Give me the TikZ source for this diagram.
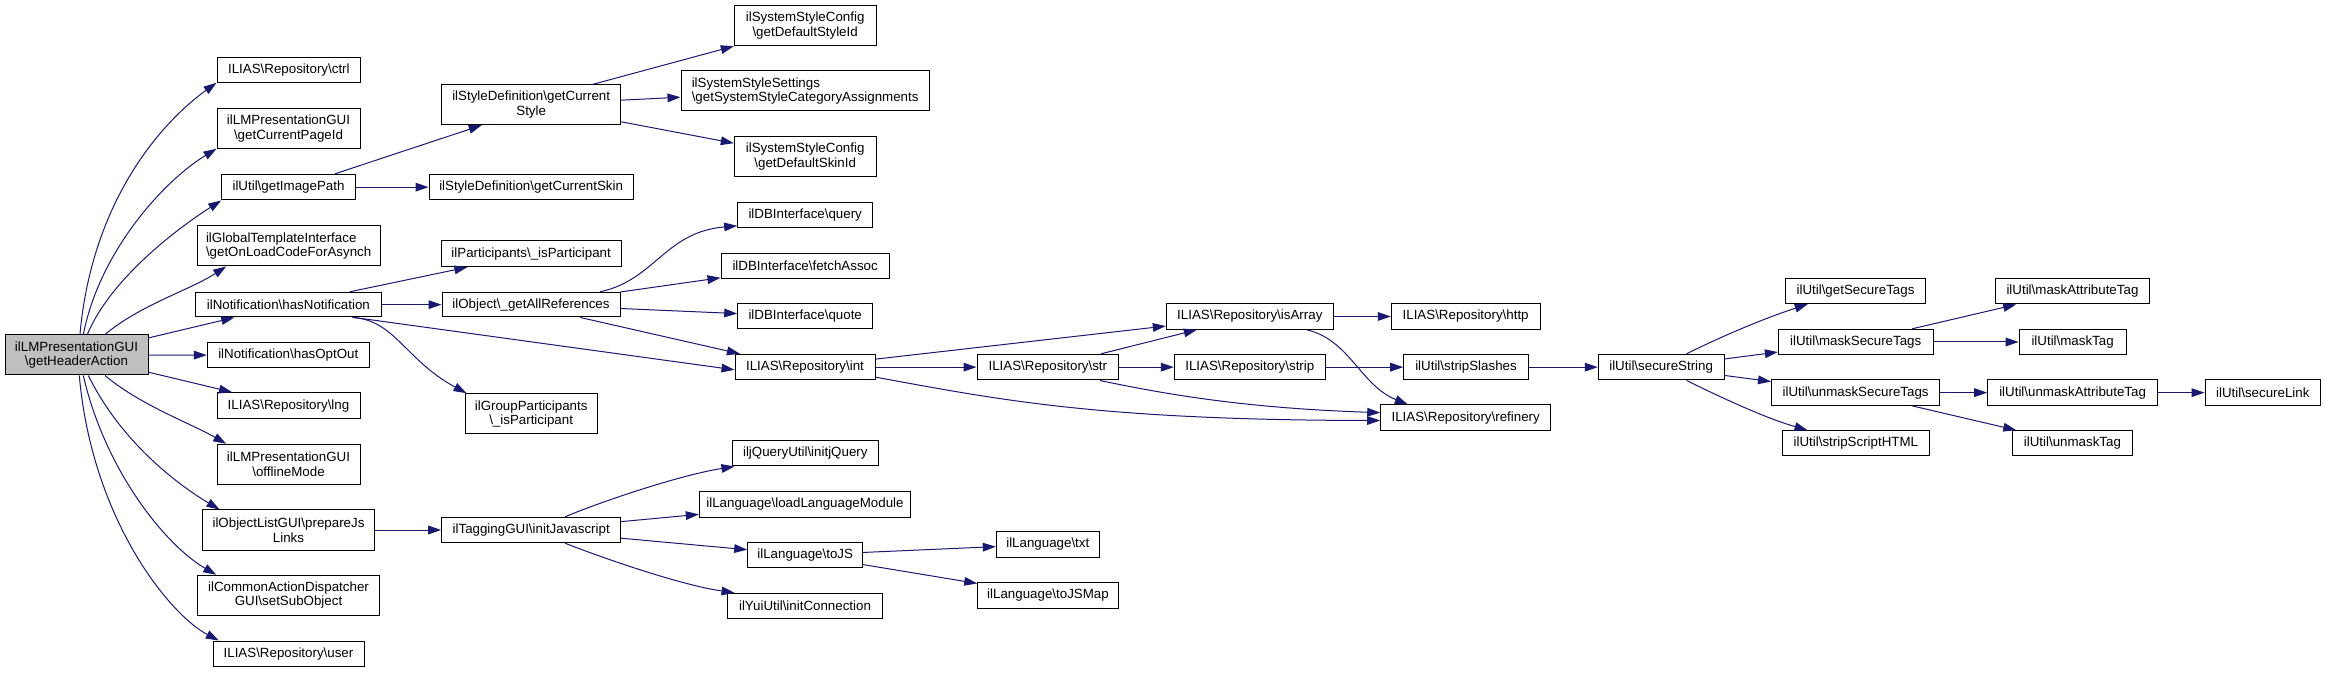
\documentclass[tikz,border=0pt]{standalone}
\usepackage{fontspec}
\setmainfont{Liberation Sans}
\usetikzlibrary{arrows.meta}
\definecolor{edgec}{HTML}{191970}
\definecolor{rootfill}{HTML}{BFBFBF}
\newcommand\bsl{\textbackslash}
\newcommand\mybox[7][]{\node[box,#1,minimum width={(#5-#3)*0.75pt},minimum height={(#6-#4)*0.75pt}] (#2) at ({(#3+#5)/2},{(#4+#6)/2}) {#7};}
\begin{document}
\begin{tikzpicture}[x=0.75pt,y=-0.75pt,
  box/.style={draw=black,fill=white,line width=0.75pt,inner sep=0pt,align=center,font=\fontsize{10}{10.9}\selectfont},
  edge/.style={draw=edgec,line width=0.75pt,-{Triangle[length=9.75pt,width=6.5pt]}}]
\useasboundingbox (0,0) rectangle (2325,673);
% nodes
\mybox[fill=rootfill]{root}{5}{335}{148}{375}{ilLMPresentationGUI\\\bsl getHeaderAction}
\mybox{ctrl}{217}{57.3}{360.7}{82.3}{ILIAS\bsl Repository\bsl ctrl}
\mybox{pageid}{217}{108.3}{360}{148.3}{ilLMPresentationGUI\\\bsl getCurrentPageId}
\mybox{imgpath}{221.7}{174.3}{355.3}{200}{ilUtil\bsl getImagePath}
\mybox[align=left]{onload}{197.3}{226}{380}{266}{ilGlobalTemplateInterface\\\bsl getOnLoadCodeForAsynch}
\mybox{hasnot}{195.7}{292.3}{381}{317}{ilNotification\bsl hasNotification}
\mybox{optout}{207.3}{342.7}{369.3}{367.7}{ilNotification\bsl hasOptOut}
\mybox{lng}{217}{392.7}{360}{418.7}{ILIAS\bsl Repository\bsl lng}
\mybox{offline}{217}{444.3}{360}{484.3}{ilLMPresentationGUI\\\bsl offlineMode}
\mybox{prepjs}{202.3}{510}{374.7}{550}{ilObjectListGUI\bsl prepareJs\\Links}
\mybox{subobj}{197.7}{575.3}{379.3}{615}{ilCommonActionDispatcher\\GUI\bsl setSubObject}
\mybox{user}{213}{641}{364}{666.7}{ILIAS\bsl Repository\bsl user}
\mybox{curstyle}{441.7}{84.7}{620.7}{124.7}{ilStyleDefinition\bsl getCurrent\\Style}
\mybox{defstyle}{734.3}{5.7}{876}{45.7}{ilSystemStyleConfig\\\bsl getDefaultStyleId}
\mybox[align=left]{catassign}{681}{71}{929.3}{111}{ilSystemStyleSettings\\\bsl getSystemStyleCategoryAssignments}
\mybox{defskin}{734.3}{136.7}{876}{176.7}{ilSystemStyleConfig\\\bsl getDefaultSkinId}
\mybox{curskin}{429}{174.3}{633.3}{200}{ilStyleDefinition\bsl getCurrentSkin}
\mybox{query}{737.7}{202.3}{872.7}{228}{ilDBInterface\bsl query}
\mybox{fetch}{721}{253.3}{889.3}{278.3}{ilDBInterface\bsl fetchAssoc}
\mybox{quote}{737.7}{304}{872.7}{329}{ilDBInterface\bsl quote}
\mybox{ispart}{441}{241}{621.3}{266.7}{ilParticipants\bsl \_isParticipant}
\mybox{allrefs}{442}{292.3}{620}{317}{ilObject\bsl \_getAllReferences}
\mybox{grppart}{465}{393.7}{597.3}{434}{ilGroupParticipants\\\bsl \_isParticipant}
\mybox{int}{735}{354.3}{875}{380}{ILIAS\bsl Repository\bsl int}
\mybox{jquery}{732.3}{441}{878.3}{466}{iljQueryUtil\bsl initjQuery}
\mybox{loadlang}{699.3}{491.7}{910.7}{517.3}{ilLanguage\bsl loadLanguageModule}
\mybox{initjs}{441.7}{517.3}{620.7}{542.7}{ilTaggingGUI\bsl initJavascript}
\mybox{tojs}{747.7}{542.3}{862.7}{567.7}{ilLanguage\bsl toJS}
\mybox{initconn}{727.3}{593.3}{882.7}{618.3}{ilYuiUtil\bsl initConnection}
\mybox{isarray}{1166.3}{303.7}{1333.3}{329.3}{ILIAS\bsl Repository\bsl isArray}
\mybox{str}{977}{354.3}{1118.7}{380}{ILIAS\bsl Repository\bsl str}
\mybox{strip}{1174.3}{354.3}{1325.3}{380}{ILIAS\bsl Repository\bsl strip}
\mybox{refinery}{1380.7}{405}{1550.7}{430.7}{ILIAS\bsl Repository\bsl refinery}
\mybox{http}{1391.3}{303.7}{1540}{329.3}{ILIAS\bsl Repository\bsl http}
\mybox{stripsl}{1403.7}{354.3}{1528.3}{380}{ilUtil\bsl stripSlashes}
\mybox{txt}{996.3}{531.7}{1099.3}{557}{ilLanguage\bsl txt}
\mybox{tojsmap}{977.7}{582.3}{1118.3}{608}{ilLanguage\bsl toJSMap}
\mybox{secstr}{1598.3}{354.3}{1724}{380}{ilUtil\bsl secureString}
\mybox{getsec}{1785.2}{278.7}{1925.8}{303.7}{ilUtil\bsl getSecureTags}
\mybox{masksec}{1778.4}{329.3}{1933}{354.7}{ilUtil\bsl maskSecureTags}
\mybox{unmasksec}{1771.5}{380}{1939.8}{405.3}{ilUtil\bsl unmaskSecureTags}
\mybox{stripscr}{1782.3}{430.7}{1929.4}{456}{ilUtil\bsl stripScriptHTML}
\mybox{maskattr}{1995}{278.7}{2149.9}{304}{ilUtil\bsl maskAttributeTag}
\mybox{masktag}{2019.1}{329.3}{2126.1}{354.7}{ilUtil\bsl maskTag}
\mybox{unmaskattr}{1987.7}{380}{2157.5}{405.3}{ilUtil\bsl unmaskAttributeTag}
\mybox{securelink}{2205}{380}{2320.7}{405.3}{ilUtil\bsl secureLink}
\mybox{unmasktag}{2012.3}{430.7}{2132.6}{456}{ilUtil\bsl unmaskTag}
% edges from root
\draw[edge] ([xshift=2.6pt]root.north) .. controls (92,200) and (162,122) .. (ctrl.south west);
\draw[edge] ([xshift=5.1pt]root.north) .. controls (100,250) and (165,180) .. (pageid.south west);
\draw[edge] ([xshift=8.1pt]root.north) .. controls (110,280) and (175,230) .. (imgpath.south west);
\draw[edge] ([xshift=21.4pt]root.north) .. controls (140,305) and (190,290) .. ([xshift=22pt]onload.south west);
\draw[edge] (root) -- (hasnot);
\draw[edge] (root) -- (optout);
\draw[edge] (root) -- (lng);
\draw[edge] ([xshift=21.4pt]root.south) .. controls (140,405) and (190,423) .. ([xshift=7.3pt]offline.north west);
\draw[edge] ([xshift=8.9pt]root.south) .. controls (120,440) and (175,483) .. ([xshift=13.3pt]prepjs.north west);
\draw[edge] ([xshift=5.1pt]root.south) .. controls (105,470) and (165,545) .. ([xshift=14.3pt]subobj.north west);
\draw[edge] ([xshift=2.1pt]root.south) .. controls (92,520) and (170,615) .. ([xshift=4.7pt]user.north west);
% getImagePath
\draw[edge] ([xshift=34.9pt]imgpath.north) -- ([xshift=-37.1pt]curstyle.south);
\draw[edge] (imgpath) -- (curskin);
% getCurrentStyle
\draw[edge] ([xshift=46.6pt]curstyle.north) -- (defstyle.south west);
\draw[edge] (curstyle) -- (catassign);
\draw[edge] (curstyle) -- (defskin);
% hasNotification
\draw[edge] (hasnot) -- (ispart);
\draw[edge] (hasnot) -- (allrefs);
\draw[edge] ([xshift=49.5pt]hasnot.south) -- ([yshift=-2pt]int.west);
\draw[edge] ([xshift=48pt]hasnot.south) .. controls (395,320) and (405,360) .. ([xshift=1.5pt]grppart.north west);
% getAllReferences
\draw[edge] ([xshift=51.8pt]allrefs.north) .. controls (655,280) and (665,232) .. ([yshift=2pt]query.south west);
\draw[edge] (allrefs) -- (fetch);
\draw[edge] (allrefs) -- (quote);
\draw[edge] ([xshift=37pt]allrefs.south) -- ([xshift=-48.8pt]int.north);
% int
\draw[edge] (int) -- (isarray);
\draw[edge] (int) -- (str);
\draw[edge] ([yshift=-7.5pt]int.east) .. controls (1000,400) and (1100,420) .. ([yshift=-2pt]refinery.west);
% str
\draw[edge] (str) -- (isarray);
\draw[edge] (str) -- (strip);
\draw[edge] ([xshift=39pt]str.south) .. controls (1160,393) and (1240,408) .. ([yshift=3.9pt]refinery.west);
% isArray
\draw[edge] (isarray) -- (http);
\draw[edge] ([xshift=42.7pt]isarray.south) .. controls (1350,340) and (1360,385) .. ([xshift=20.7pt]refinery.north west);
% strip chain
\draw[edge] (strip) -- (stripsl);
\draw[edge] (stripsl) -- (secstr);
% secureString
\draw[edge] ([xshift=19.1pt]secstr.north) .. controls (1720,337) and (1765,318) .. ([xshift=17.3pt]getsec.south west);
\draw[edge] (secstr) -- (masksec);
\draw[edge] (secstr) -- (unmasksec);
\draw[edge] ([xshift=19.1pt]secstr.south) .. controls (1720,397) and (1765,418) .. ([xshift=19.3pt]stripscr.north west);
% mask / unmask
\draw[edge] (masksec) -- (maskattr);
\draw[edge] (masksec) -- (masktag);
\draw[edge] (unmasksec) -- (unmaskattr);
\draw[edge] (unmasksec) -- (unmasktag);
\draw[edge] (unmaskattr) -- (securelink);
% prepareJsLinks / initJavascript
\draw[edge] (prepjs) -- (initjs);
\draw[edge] ([xshift=25.4pt]initjs.north) .. controls (600,502) and (680,475) .. ([xshift=2pt]jquery.south west);
\draw[edge] (initjs) -- (loadlang);
\draw[edge] (initjs) -- (tojs);
\draw[edge] ([xshift=25.4pt]initjs.south) .. controls (600,557) and (680,585) .. ([xshift=5.8pt]initconn.north west);
\draw[edge] (tojs) -- (txt);
\draw[edge] (tojs) -- (tojsmap);
\end{tikzpicture}
\end{document}
